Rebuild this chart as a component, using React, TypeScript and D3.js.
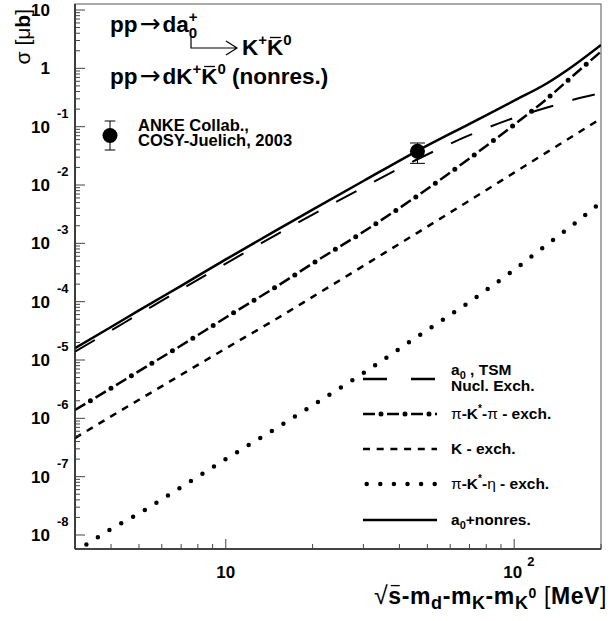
import React, { useLayoutEffect, useRef, useState } from "react";
import * as d3 from "d3";

// ---- data ----
const energies = [3, 4, 5, 7, 10, 15, 20, 30, 46, 70, 100, 130, 160, 200]; // MeV
const sigmaTotal = [1.6e-5, 3.68e-5, 7.1e-5, 1.87e-4, 5.3e-4, 1.69e-3, 3.78e-3, 1.17e-2, 3.82e-2, 0.112, 0.279, 0.554, 1.095, 2.51];
const sigmaA0 = [1.51e-5, 3.46e-5, 6.64e-5, 1.75e-4, 4.88e-4, 1.53e-3, 3.37e-3, 9.86e-3, 2.96e-2, 7.73e-2, 0.154, 0.23, 0.313, 0.408];
const sigmaPiKPi = [1.39e-6, 3.28e-6, 6.46e-6, 1.77e-5, 5.35e-5, 1.82e-4, 4.52e-4, 1.58e-3, 6.45e-3, 2.86e-2, 0.108, 0.302, 0.746, 1.94];
const sigmaK = [4.59e-7, 1.08e-6, 2.08e-6, 5.58e-6, 1.58e-5, 5.09e-5, 1.21e-4, 4.11e-4, 1.5e-3, 5.43e-3, 1.63e-2, 3.66e-2, 6.93e-2, 0.138];
const sigmaPiKEta = [5.1e-9, 1.26e-8, 2.34e-8, 6.6e-8, 2.0e-7, 6.84e-7, 1.67e-6, 5.97e-6, 2.48e-5, 9.93e-5, 3.52e-4, 9.53e-4, 2.08e-3, 5.06e-3];

const dataX = [46.2];
const dataY = [0.038];
const dataErr = [0.0145];

const yDecades = [-8, -7, -6, -5, -4, -3, -2, -1, 0, 1];

const FONT = "'Liberation Sans', Arial, Helvetica, sans-serif";
const ARROW_FONT = "'DejaVu Sans', sans-serif";

export default function App() {
  const W = 610, H = 621;
  const L = 75, R = 601, T = 4, B = 549;
  const x = d3.scaleLog().domain([3, 200]).range([L, R]);
  const y = d3.scaleLog().domain([Math.pow(10, -8.24), Math.pow(10, 1.103)]).range([B, T]);

  const svgRef = useRef<SVGSVGElement>(null);
  const [bars, setBars] = useState<{ x1: number; x2: number; y: number }[]>([]);

  useLayoutEffect(() => {
    const svg = svgRef.current;
    if (!svg) return;
    const out: { x1: number; x2: number; y: number }[] = [];
    svg.querySelectorAll("tspan.bar").forEach((el: any) => {
      try {
        const e = el.getExtentOfChar(0);
        out.push({ x1: e.x + e.width * 0.18, x2: e.x + e.width * 0.85, y: e.y + e.height * 0.1 });
      } catch (err) {}
    });
    setBars(out);
  }, []);

  const line = d3
    .line<[number, number]>()
    .x((d) => x(d[0]))
    .y((d) => y(d[1]))
    .curve(d3.curveMonotoneX);

  const mk = (vals: number[]) => line(energies.map((e, i) => [e, vals[i]] as [number, number])) as string;

  const pTotal = mk(sigmaTotal);
  const pA0 = mk(sigmaA0);
  const pPiKPi = mk(sigmaPiKPi);
  const pK = mk(sigmaK);
  const pPiKEta = mk(sigmaPiKEta);

  const yTicks: { v: number; major: boolean }[] = [];
  yDecades.forEach((d) => {
    for (let m = 1; m <= 9; m++) {
      const v = m * Math.pow(10, d);
      if (v >= y.domain()[0] && v <= y.domain()[1]) yTicks.push({ v, major: m === 1 });
    }
  });
  const xTicks: { v: number; major: boolean }[] = [];
  [1, 10, 100].forEach((d) => {
    for (let m = 1; m <= 9; m++) {
      const v = m * d;
      if (v >= 3 && v <= 200) xTicks.push({ v, major: m === 1 });
    }
  });

  const legY = [379, 414, 449, 484, 520];
  const lx1 = 363, lx2 = 437, tx = 451;

  const styles = {
    total: { stroke: "#000", strokeWidth: 2.5, fill: "none" },
    a0: { stroke: "#000", strokeWidth: 2, fill: "none", strokeDasharray: "23 20" },
    k: { stroke: "#000", strokeWidth: 2.5, fill: "none", strokeDasharray: "7 6.7" },
    eta: { stroke: "#000", strokeWidth: 4.5, fill: "none", strokeDasharray: "0 13.6", strokeLinecap: "round" as const },
  };

  const DashDot = ({ d, offset = 0 }: { d: string; offset?: number }) => (
    <g>
      <path d={d} stroke="#000" strokeWidth={2.5} fill="none" strokeDasharray="12 12" strokeDashoffset={offset} />
      <path d={d} stroke="#000" strokeWidth={5} fill="none" strokeDasharray="0 24" strokeLinecap="round" strokeDashoffset={offset - 18} />
    </g>
  );

  const legPath = (yy: number) => `M${lx1},${yy}H${lx2}`;

  const Arrow = () => (
    <tspan fontFamily={ARROW_FONT} fontWeight="normal" fontSize={25} dx={2}>→</tspan>
  );

  return (
    <svg ref={svgRef} width={W} height={H} style={{ display: "block", position: "absolute", left: 0, top: 0 }} fontFamily={FONT}>
      <rect x={0} y={0} width={W} height={H} fill="#fff" />
      <defs>
        <clipPath id="plotclip">
          <rect x={L} y={T} width={R - L} height={B - T} />
        </clipPath>
      </defs>

      {/* frame */}
      <rect x={L} y={T} width={R - L} height={B - T} fill="none" stroke="#555" strokeWidth={1} />

      {/* curves */}
      <g clipPath="url(#plotclip)">
        <path d={pPiKEta} {...styles.eta} />
        <path d={pK} {...styles.k} />
        <DashDot d={pPiKPi} />
        <path d={pA0} {...styles.a0} transform="translate(0,2)" />
        <path d={pTotal} {...styles.total} />
      </g>

      {/* axes */}
      <line x1={L} y1={T} x2={L} y2={B} stroke="#222" strokeWidth={1.6} />
      <line x1={L} y1={B} x2={R} y2={B} stroke="#222" strokeWidth={1.6} />
      {yTicks.map((t, i) => (
        <line key={"yt" + i} x1={L} x2={L + (t.major ? 10 : 5)} y1={y(t.v)} y2={y(t.v)} stroke="#444" strokeWidth={1} />
      ))}
      {xTicks.map((t, i) => (
        <line key={"xt" + i} x1={x(t.v)} x2={x(t.v)} y1={B} y2={B - (t.major ? 10 : 5)} stroke="#444" strokeWidth={1} />
      ))}

      {/* y tick labels */}
      {yDecades.map((d) => {
        const yy = y(Math.pow(10, d));
        const main = d === 0 ? "1" : "10";
        return (
          <g key={"yl" + d} fontWeight="bold">
            <text x={50} y={yy + 6} fontSize={17} textAnchor="end">{main}</text>
            {d !== 0 && d !== 1 && (
              <text x={57} y={yy - 9} fontSize={13}>{String(d)}</text>
            )}
          </g>
        );
      })}

      {/* x tick labels */}
      <text x={x(10)} y={578} fontSize={17} fontWeight="bold" textAnchor="middle">10</text>
      <text x={x(100) - 1.5} y={578} fontSize={17} fontWeight="bold" textAnchor="middle">10</text>
      <text x={x(100) + 13} y={566} fontSize={13} fontWeight="bold">2</text>

      {/* axis titles */}
      <text transform="translate(30,9) rotate(-90)" fontSize={21} fontWeight="bold" textAnchor="end">
        <tspan fontWeight="normal">σ [μ</tspan>b<tspan fontWeight="normal">]</tspan>
      </text>
      <text x={607} y={604} fontSize={23} fontWeight="bold" textAnchor="end" letterSpacing={0.6}>
        <tspan fontWeight="normal" fontSize={25}>√</tspan>
        <tspan className="bar">s</tspan>-m<tspan fontSize={18} dy={5}>d</tspan>
        <tspan dy={-5}>-m</tspan><tspan fontSize={18} dy={5}>K</tspan>
        <tspan dy={-5}>-m</tspan><tspan fontSize={18} dy={5}>K</tspan><tspan fontSize={14} dy={-11}>0</tspan>
        <tspan dy={6} fontWeight="normal"> [</tspan>MeV<tspan fontWeight="normal">]</tspan>
      </text>

      {/* reaction annotations */}
      <g fontWeight="bold" fontSize={22.5}>
        <text x={110} y={32}>
          pp<Arrow /><tspan dx={2}>da</tspan><tspan fontSize={15} dy={-10}>+</tspan>
          <tspan fontSize={15} dx={-8.8} dy={16}>0</tspan>
        </text>
        <path d="M191,37V48H237M226,41L237,48L226,55" fill="none" stroke="#000" strokeWidth={1.2} />
        <text x={242} y={55}>
          K<tspan fontSize={15} dy={-10}>+</tspan><tspan className="bar" dy={10}>K</tspan><tspan fontSize={15} dy={-10}>0</tspan>
        </text>
        <text x={110} y={84}>
          pp<Arrow /><tspan dx={2}>dK</tspan><tspan fontSize={15} dy={-10}>+</tspan><tspan className="bar" dy={10}>K</tspan>
          <tspan fontSize={15} dy={-10}>0</tspan><tspan dy={10}> (nonres.)</tspan>
        </text>
      </g>
      {bars.map((b, i) => (
        <line key={"bar" + i} x1={b.x1} x2={b.x2} y1={b.y} y2={b.y} stroke="#000" strokeWidth={1.3} />
      ))}

      {/* ANKE legend */}
      <line x1={110} x2={110} y1={121} y2={150} stroke="#000" strokeWidth={1} />
      <line x1={104.7} x2={115.3} y1={121} y2={121} stroke="#000" strokeWidth={1} />
      <line x1={104.7} x2={115.3} y1={150} y2={150} stroke="#000" strokeWidth={1} />
      <circle cx={110} cy={135.5} r={7.5} fill="#000" />
      <g fontWeight="bold" fontSize={16.5}>
        <text x={138} y={131}>ANKE Collab.,</text>
        <text x={138} y={146}>COSY-Juelich, 2003</text>
      </g>

      {/* data point */}
      {dataX.map((dx, i) => {
        const cx = x(dx);
        const yt = y(dataY[i] + dataErr[i]);
        const yb = y(dataY[i] - dataErr[i]);
        return (
          <g key={"pt" + i}>
            <line x1={cx} x2={cx} y1={yt} y2={yb} stroke="#000" strokeWidth={1} />
            <line x1={cx - 7.5} x2={cx + 7.5} y1={yt} y2={yt} stroke="#000" strokeWidth={1} />
            <line x1={cx - 7.5} x2={cx + 7.5} y1={yb} y2={yb} stroke="#000" strokeWidth={1} />
            <circle cx={cx} cy={y(dataY[i])} r={7.5} fill="#000" />
          </g>
        );
      })}

      {/* curve legend */}
      <path d={legPath(legY[0])} stroke="#000" strokeWidth={2.5} fill="none" strokeDasharray="24 24" />
      <DashDot d={legPath(legY[1])} />
      <path d={legPath(legY[2])} {...styles.k} />
      <path d={legPath(legY[3])} {...styles.eta} strokeDashoffset={-3.7} />
      <path d={legPath(legY[4])} {...styles.total} />
      <g fontWeight="bold" fontSize={15.5}>
        <text x={tx} y={375}>a<tspan fontSize={11} dy={4}>0</tspan><tspan dy={-4}> , TSM</tspan></text>
        <text x={tx} y={391}>Nucl. Exch.</text>
        <text x={tx} y={legY[1] + 5}>
          <tspan fontWeight="normal">π</tspan>-K<tspan fontSize={10} dy={-7}>*</tspan><tspan dy={7}>-</tspan>
          <tspan fontWeight="normal">π</tspan> - exch.
        </text>
        <text x={tx} y={legY[2] + 5}>K - exch.</text>
        <text x={tx} y={legY[3] + 5}>
          <tspan fontWeight="normal">π</tspan>-K<tspan fontSize={10} dy={-7}>*</tspan><tspan dy={7}>-</tspan>
          <tspan fontWeight="normal">η</tspan> - exch.
        </text>
        <text x={tx} y={legY[4] + 5}>a<tspan fontSize={11} dy={4}>0</tspan><tspan dy={-4}>+nonres.</tspan></text>
      </g>
    </svg>
  );
}
